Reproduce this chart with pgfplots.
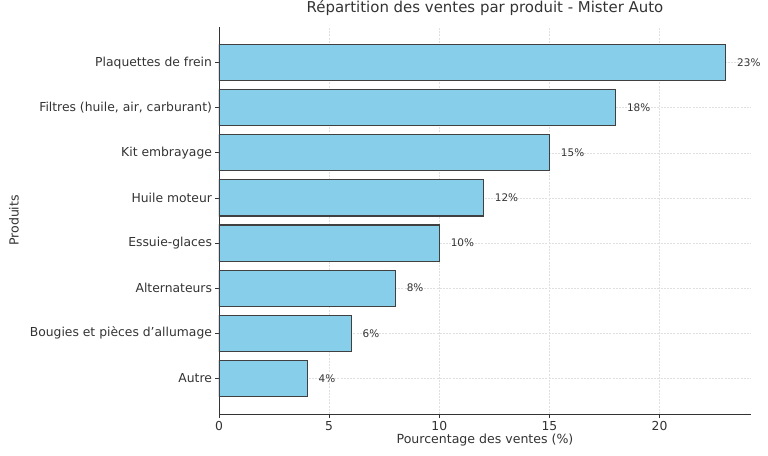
\documentclass[border=0pt]{standalone}
\usepackage{pgfplots}
\pgfplotsset{compat=1.18}
\usepackage{fontspec}
\setmainfont{DejaVu Sans}
\definecolor{barblue}{HTML}{87CEEB}
\definecolor{txt}{HTML}{333333}
\definecolor{gridc}{HTML}{E0E0E0}
\begin{document}
\begin{tikzpicture}
\begin{axis}[
  scale only axis, width=532bp, height=387bp,
  xmin=0, xmax=24.15, ymin=-0.79, ymax=7.79,
  xbar, bar width=0.8, bar shift=0,
  ytick={0,...,7},
  yticklabels={Autre,Bougies et pièces d’allumage,Alternateurs,Essuie-glaces,Huile moteur,Kit embrayage,{Filtres (huile, air, carburant)},Plaquettes de frein},
  xtick={0,5,10,15,20},
  axis x line*=bottom, axis y line*=left,
  axis line style={black!80, line width=0.9bp},
  tick align=outside, major tick length=3.5bp,
  tick style={black!80, line width=0.8bp},
  grid=major,
  major grid style={gridc, dash pattern=on 2bp off 1.2bp, line width=0.6bp},
  /pgf/number format/assume math mode=true,
  ticklabel style={font=\fontsize{12.4}{14}\selectfont, text=txt},
  xlabel={Pourcentage des ventes (\%)},
  ylabel={Produits},
  label style={font=\fontsize{12.6}{14}\selectfont, text=txt},
  xlabel style={at={(axis description cs:0.5,0)}, anchor=center, yshift=-26bp},
  ylabel style={at={(axis description cs:0,0.5)}, anchor=center, rotate=0, yshift=205bp},
  title={Répartition des ventes par produit - Mister Auto},
  title style={font=\fontsize{15}{17}\selectfont, text=txt, at={(axis description cs:0.5,1)}, anchor=center, yshift=13bp},
  nodes near coords={\pgfmathprintnumber{\pgfplotspointmeta}\%},
  point meta=explicit symbolic,
  nodes near coords style={anchor=west, inner sep=0pt, xshift=11bp, font=\fontsize{10.5}{12}\selectfont, text=txt},
]
\addplot[fill=barblue, draw=black!75, line width=1.1bp] coordinates {
  (4,0) [4] (6,1) [6] (8,2) [8] (10,3) [10] (12,4) [12] (15,5) [15] (18,6) [18] (23,7) [23]
};
\end{axis}
\pgfresetboundingbox
\path (current axis.south west) +(-219bp,-42bp) (current axis.north east) +(17bp,27bp);
\end{tikzpicture}
\end{document}
